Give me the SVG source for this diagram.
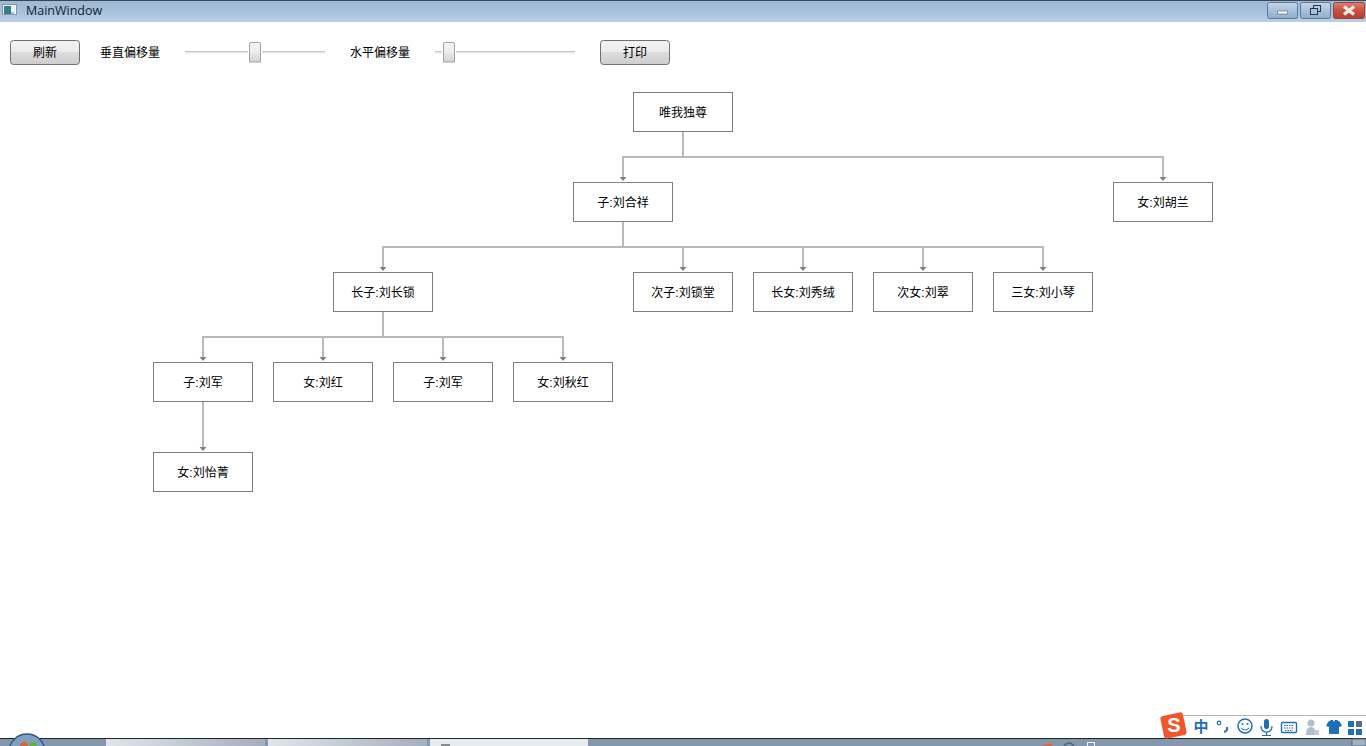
<svg xmlns="http://www.w3.org/2000/svg" width="1366" height="746" viewBox="0 0 1366 746">
<style>
text{font-family:"Liberation Sans","Noto Sans CJK SC",sans-serif;font-size:12px;fill:#000}
.n rect{fill:#fff;stroke:#808080;stroke-width:1}
.n text,.b text{text-anchor:middle}
.c path{fill:none;stroke:#bababa;stroke-width:2;marker-end:url(#a)}
.c .p{marker-end:none}
.btn{fill:url(#bg);stroke:#707070;stroke-width:1}
.trk{fill:#c4c6c6}
.trl{fill:#e6eaea}
.th{fill:url(#tg);stroke:#a0a2a4;stroke-width:1}
.wb{stroke:#5e7a99;stroke-width:1}
.ic{fill:#1f6fb8}
</style>
<defs>
<marker id="a" markerUnits="userSpaceOnUse" markerWidth="7" markerHeight="8" refX="1" refY="3.500" orient="auto"><path d="M0 0L4 3.500L0 7z" fill="#808080"/></marker>
<linearGradient id="tb" x1="0" y1="0" x2="0" y2="1"><stop offset="0" stop-color="#9db7d4"/><stop offset=".55" stop-color="#a8c2dd"/><stop offset="1" stop-color="#b9d0e7"/></linearGradient>
<linearGradient id="bg" x1="0" y1="0" x2="0" y2="1"><stop offset="0" stop-color="#f3f3f3"/><stop offset=".5" stop-color="#ebebeb"/><stop offset=".5" stop-color="#dddddd"/><stop offset="1" stop-color="#cdcdcd"/></linearGradient>
<linearGradient id="tg" x1="0" y1="0" x2="0" y2="1"><stop offset="0" stop-color="#f6f6f6"/><stop offset=".5" stop-color="#ececec"/><stop offset="1" stop-color="#d2d2d2"/></linearGradient>
<linearGradient id="wb" x1="0" y1="0" x2="0" y2="1"><stop offset="0" stop-color="#c4d6e8"/><stop offset=".5" stop-color="#a9c1da"/><stop offset="1" stop-color="#8fadcb"/></linearGradient>
<linearGradient id="cl" x1="0" y1="0" x2="0" y2="1"><stop offset="0" stop-color="#dc7f70"/><stop offset=".5" stop-color="#c9513f"/><stop offset="1" stop-color="#b63c2c"/></linearGradient>
<linearGradient id="tk" x1="0" y1="0" x2="1" y2="0"><stop offset="0" stop-color="#dfe5ea"/><stop offset="1" stop-color="#a4afbd"/></linearGradient>
</defs>
<rect width="1366" height="746" fill="#fff"/>
<g id="titlebar">
<rect width="1366" height="22" fill="url(#tb)"/>
<rect width="1366" height="1" fill="#3c4650"/>
<rect x="2.500" y="4.500" width="14" height="10" fill="#eef2f4" stroke="#8a96a0"/>
<rect x="4" y="6" width="7" height="8" fill="#2f7f8a"/>
<rect x="11" y="12" width="3" height="2" fill="#b4bcc2"/>
<text x="26" y="15" style="font-family:'Open Sans','Liberation Sans',sans-serif;font-size:12.500px;fill:#12202e">MainWindow</text>
<rect class="wb" x="1267.500" y="2.500" width="30" height="16" rx="2" fill="url(#wb)"/>
<rect x="1277.500" y="11" width="10" height="3" fill="#f2f5f8" stroke="#44566a" stroke-width=".5"/>
<rect class="wb" x="1300.500" y="2.500" width="30" height="16" rx="2" fill="url(#wb)"/>
<rect x="1313.500" y="5.500" width="7" height="6" fill="none" stroke="#263646"/>
<rect x="1310.500" y="8.500" width="7" height="6" fill="#a9c1da" stroke="#263646"/>
<rect x="1333.500" y="2.500" width="31" height="16" rx="2" fill="url(#cl)" stroke="#8e4a40"/>
<path d="M1344 6.500L1354 14.500M1354 6.500L1344 14.500" stroke="#f0ebe2" stroke-width="3.400" fill="none"/>
</g>
<g id="toolbar">
<g class="b" id="btn-refresh"><rect class="btn" x="10.500" y="40.500" width="69" height="24" rx="3"/><text x="45" y="57">刷新</text></g>
<text x="100" y="57">垂直偏移量</text>
<rect class="trk" x="185" y="51" width="63" height="1"/><rect class="trl" x="185" y="52" width="63" height="1.500"/>
<rect class="trk" x="262" y="51" width="63" height="1"/><rect class="trl" x="262" y="52" width="63" height="1.500"/>
<path class="th" d="M249.500 62V44a1.500 1.500 0 0 1 1.500-1.500h8a1.500 1.500 0 0 1 1.500 1.500V62z"/>
<text x="350" y="57">水平偏移量</text>
<rect class="trk" x="435" y="51" width="7" height="1"/><rect class="trl" x="435" y="52" width="7" height="1.500"/>
<rect class="trk" x="456" y="51" width="119" height="1"/><rect class="trl" x="456" y="52" width="119" height="1.500"/>
<path class="th" d="M443.500 62V44a1.500 1.500 0 0 1 1.500-1.500h8a1.500 1.500 0 0 1 1.500 1.500V62z"/>
<g class="b" id="btn-print"><rect class="btn" x="600.500" y="40.500" width="69" height="24" rx="3"/><text x="635" y="57">打印</text></g>
</g>
<g id="connectors" class="c">
<path class="p" d="M683 132V157M622 157H1164"/>
<path d="M623 157V178"/><path d="M1163 157V178"/>
<path class="p" d="M623 222V247M382 247H1044"/>
<path d="M383 247V268"/><path d="M683 247V268"/><path d="M803 247V268"/><path d="M923 247V268"/><path d="M1043 247V268"/>
<path class="p" d="M383 312V337M202 337H564"/>
<path d="M203 337V358"/><path d="M323 337V358"/><path d="M443 337V358"/><path d="M563 337V358"/>
<path d="M203 402V448"/>
</g>
<g id="n1" class="n"><rect x="633.500" y="92.500" width="99" height="39"/><text x="683" y="117">唯我独尊</text></g>
<g id="n2" class="n"><rect x="573.500" y="182.500" width="99" height="39"/><text x="623" y="207">子:刘合祥</text></g>
<g id="n3" class="n"><rect x="1113.500" y="182.500" width="99" height="39"/><text x="1163" y="207">女:刘胡兰</text></g>
<g id="n4" class="n"><rect x="333.500" y="272.500" width="99" height="39"/><text x="383" y="297">长子:刘长锁</text></g>
<g id="n5" class="n"><rect x="633.500" y="272.500" width="99" height="39"/><text x="683" y="297">次子:刘锁堂</text></g>
<g id="n6" class="n"><rect x="753.500" y="272.500" width="99" height="39"/><text x="803" y="297">长女:刘秀绒</text></g>
<g id="n7" class="n"><rect x="873.500" y="272.500" width="99" height="39"/><text x="923" y="297">次女:刘翠</text></g>
<g id="n8" class="n"><rect x="993.500" y="272.500" width="99" height="39"/><text x="1043" y="297">三女:刘小琴</text></g>
<g id="n9" class="n"><rect x="153.500" y="362.500" width="99" height="39"/><text x="203" y="387">子:刘军</text></g>
<g id="n10" class="n"><rect x="273.500" y="362.500" width="99" height="39"/><text x="323" y="387">女:刘红</text></g>
<g id="n11" class="n"><rect x="393.500" y="362.500" width="99" height="39"/><text x="443" y="387">子:刘军</text></g>
<g id="n12" class="n"><rect x="513.500" y="362.500" width="99" height="39"/><text x="563" y="387">女:刘秋红</text></g>
<g id="n13" class="n"><rect x="153.500" y="452.500" width="99" height="39"/><text x="203" y="477">女:刘怡菁</text></g>
<g id="taskbar">
<rect y="739" width="1366" height="7" fill="#8497ad"/>
<rect y="738" width="1366" height="1" fill="#1c2430"/>
<circle cx="27" cy="752" r="18" fill="#7fa0c0" stroke="#2e5a82" stroke-width="1.500"/>
<circle cx="24" cy="746" r="4" fill="#e2612c"/>
<circle cx="33" cy="746" r="4" fill="#6aae3a"/>
<rect x="106" y="739" width="159" height="7" fill="url(#tk)"/>
<rect x="268" y="739" width="159" height="7" fill="url(#tk)"/>
<rect x="430" y="739" width="158" height="7" fill="#e6ebef"/>
<rect x="441" y="744" width="9" height="2" fill="#8a8a8a"/>
<path d="M1040 746L1052 743V746z" fill="#e8612c"/>
<circle cx="1069" cy="748" r="5" fill="none" stroke="#50606f" stroke-width="1.500"/>
<rect x="1087.500" y="742.500" width="7" height="4" fill="none" stroke="#f0f4f8"/>
<rect x="1352" y="739" width="14" height="7" fill="#a3b2c3" stroke="#5b6a7a"/>
</g>
<g id="ime">
<rect x="1182" y="715" width="184" height="23" fill="#fff"/>
<rect x="1182" y="715" width="184" height="1" fill="#b5b5b5"/>
<rect x="1162" y="714" width="23" height="23" rx="3" fill="#f0562a" transform="rotate(-12 1173.500 725.500)"/>
<text x="1174" y="732" text-anchor="middle" style="font-size:20px;font-weight:bold;fill:#fff">S</text>
<text x="1201" y="732" text-anchor="middle" style="font-size:15px;font-weight:bold;fill:#1f6fb8">中</text>
<circle cx="1219" cy="723" r="1.800" fill="none" stroke="#1f6fb8" stroke-width="1.200"/>
<path d="M1227 727q1 4-3 5" fill="none" stroke="#1f6fb8" stroke-width="2"/>
<circle cx="1245" cy="726" r="7" fill="#fff" stroke="#1f6fb8" stroke-width="1.500"/>
<circle cx="1242.500" cy="724" r="1" class="ic"/><circle cx="1247.500" cy="724" r="1" class="ic"/>
<path d="M1241 728q4 4 8 0" fill="none" stroke="#1f6fb8"/>
<rect x="1264" y="719" width="5" height="10" rx="2.500" class="ic"/>
<path d="M1261 726q0 6 5.500 6t5.500-6M1266.500 732v3M1262 735.500h9" fill="none" stroke="#1f6fb8" stroke-width="1.200"/>
<rect x="1281.500" y="722.500" width="15" height="10" rx="1" fill="#fff" stroke="#1f6fb8" stroke-width="1.400"/>
<path d="M1284 725.500h10M1284 728h10M1285 730.500h8" stroke="#1f6fb8" stroke-dasharray="1.500 1" fill="none"/>
<circle cx="1311" cy="723" r="3.500" fill="#aebfce"/>
<path d="M1306 735q0-8 5-8t5 8z" fill="#aebfce"/>
<rect x="1314" y="730" width="5" height="5" fill="#c4ccd4"/>
<path d="M1328 722l3-2h2l1 2 1-2h2l3 2 2 4-3 1v7h-10v-7l-3-1z" class="ic"/>
<rect x="1348" y="721" width="6" height="6" class="ic"/><rect x="1356" y="721" width="6" height="6" fill="#5a6f86"/><rect x="1348" y="729" width="6" height="6" class="ic"/><rect x="1356" y="729" width="6" height="6" class="ic"/>
</g>
</svg>
